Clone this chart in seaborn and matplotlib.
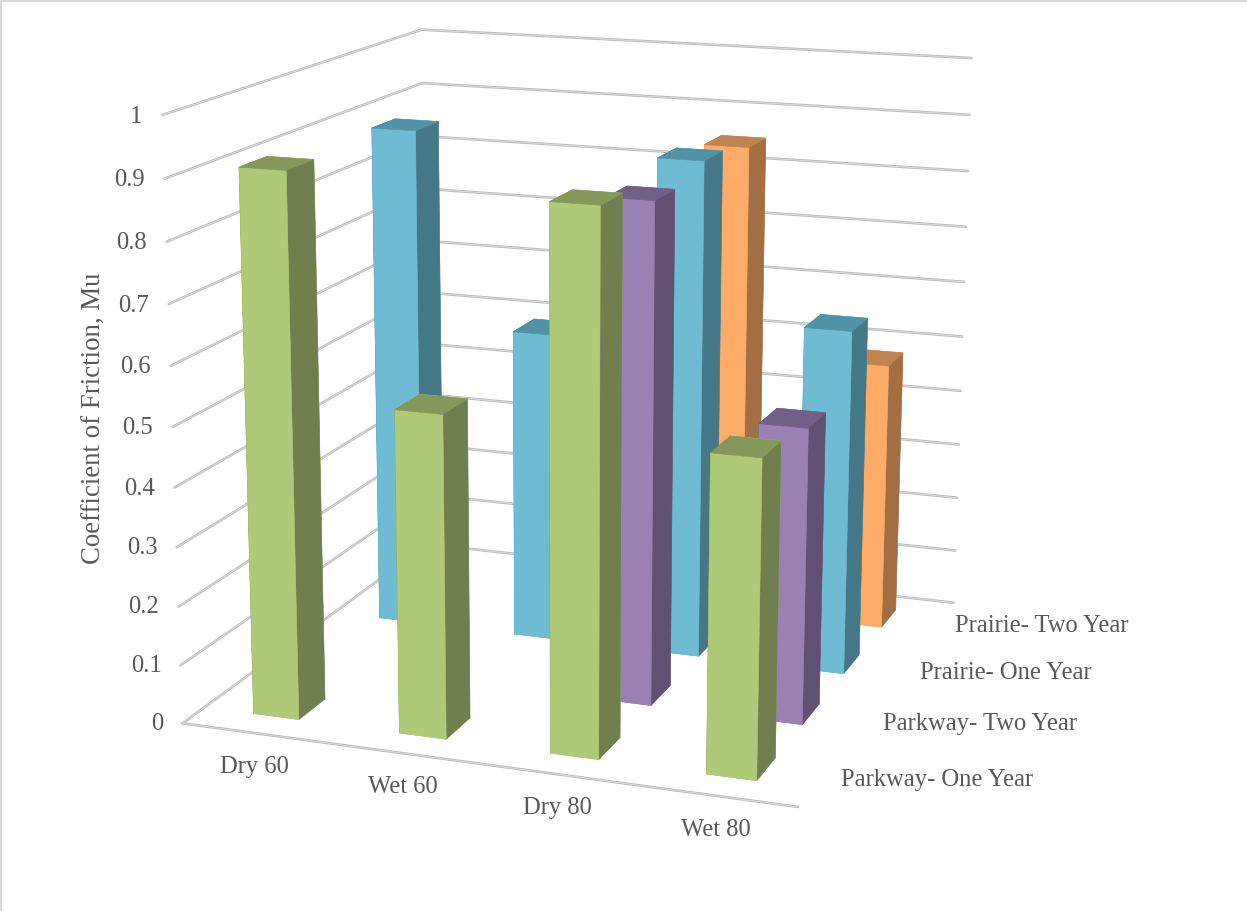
import matplotlib
matplotlib.use('Agg')
import matplotlib.pyplot as plt
from matplotlib.patches import Rectangle
from mpl_toolkits.mplot3d import proj3d
import seaborn as sns

categories = ['Dry 60', 'Wet 60', 'Dry 80', 'Wet 80']
series_names = ['Parkway- One Year', 'Parkway- Two Year', 'Prairie- One Year', 'Prairie- Two Year']
parkway_one_year = [0.91, 0.54, 0.89, 0.52]
parkway_two_year = [None, None, 0.85, 0.50]
prairie_one_year = [0.89, 0.55, 0.87, 0.60]
prairie_two_year = [None, None, 0.85, 0.48]
z_ticks = [0, 0.1, 0.2, 0.3, 0.4, 0.5, 0.6, 0.7, 0.8, 0.9, 1]
z_tick_labels = ['0', '0.1', '0.2', '0.3', '0.4', '0.5', '0.6', '0.7', '0.8', '0.9', '1']
series_values = [parkway_one_year, parkway_two_year, prairie_one_year, prairie_two_year]

sns.set_theme(style='white')
plt.rcParams['font.family'] = ['Liberation Serif', 'DejaVu Serif']

# One (top, front, side) shade triple per series
front = sns.color_palette(['#AEC978', '#9A81B4', '#6FBBD3', '#FDAB67'])
top = sns.color_palette(['#84985A', '#725F87', '#5093A7', '#BF8450'])
side = sns.color_palette(['#6F7F4D', '#625073', '#457887', '#A26E42'])

TEXT = '#595959'
GRID = '#BDBDBD'
GRID_CORE = '#E2E2E2'
W, H = 1247, 911
SCALE, CX, CY = 5522.589, 590.844, 379.085

fig = plt.figure(figsize=(W / 100, H / 100), dpi=100, facecolor='white')
ax = fig.add_subplot(projection='3d', computed_zorder=False)
ax.set_xlim(0, 4)
ax.set_ylim(0, 4)
ax.set_zlim(0, 1)
ax.view_init(elev=14.324, azim=-70.3619, roll=-0.1237)
ax.set_proj_type('persp', focal_length=0.5509)
ax.set_box_aspect((1.2322, 1.2265, 1.1853))
ax.set_axis_off()

# Place the square 3D viewport so one view unit spans SCALE pixels
vx0, vx1 = ax.viewLim.intervalx
vy0, vy1 = ax.viewLim.intervaly
left = CX + SCALE * vx0
bottom = H - (CY - SCALE * vy0)
ax.set_position([left / W, bottom / H, SCALE * (vx1 - vx0) / W, SCALE * (vy1 - vy0) / H])


def label_at(x, y, z, text, dx=0, dy=0, **kwargs):
    """Write a label at a box position, nudged by a pixel offset."""
    u, v, _ = proj3d.proj_transform(x, y, z, ax.get_proj())
    ax.annotate(text, xy=(u, v), xycoords='data', xytext=(dx, dy), textcoords='offset pixels',
                color=TEXT, fontsize=17.7, va='center', annotation_clip=False, zorder=100, **kwargs)


# Walls: left side and back, plus the front floor edge
for lw, colour, order in ((1.9, GRID, 1), (0.5, GRID_CORE, 2)):
    for z in z_ticks:
        ax.plot([0, 0, 4], [0, 4, 4], [z, z, z], color=colour, lw=lw, zorder=order, solid_joinstyle='miter')
    ax.plot([0, 4], [0, 0], [0, 0], color=colour, lw=lw, zorder=order)

BAR_X, BAR_W = 0.3424, 0.3137
BAR_Y, BAR_D = 0.3105, 0.3966
for j in range(3, -1, -1):
    for i, value in enumerate(series_values[j]):
        if value is None:
            continue
        faces = [front[j], top[j], front[j], front[j], side[j], side[j]]
        bar = ax.bar3d(i + BAR_X, j + BAR_Y, 0, BAR_W, BAR_D, value,
                       color=faces, shade=False, edgecolor=faces, linewidth=0.4)
        bar.set_zorder(10 + (3 - j) * 10 + i)

for z, label in zip(z_ticks, z_tick_labels):
    label_at(-0.12, 0, z, label, dx=-2, dy=-3, ha='right')
for i, label in enumerate(categories):
    label_at(i + 0.5, 0, 0, label, dy=-34, ha='center')
for j, label in enumerate(series_names):
    label_at(4.125, j + 0.5, 0, label, ha='left')

fig.text(94 / W, 1 - 418 / H, 'Coefficient of Friction, Mu', rotation=90, ha='center', va='center',
         fontsize=19.3, color=TEXT)

# Thin frame along the left and top of the canvas
fig.add_artist(Rectangle((0, 0), 2 / W, 1, transform=fig.transFigure, color='#D9D9D9', lw=0))
fig.add_artist(Rectangle((0, 1 - 1.5 / H), 1, 1.5 / H, transform=fig.transFigure, color='#D9D9D9', lw=0))

fig.savefig('out.png', dpi=100, facecolor='white')
